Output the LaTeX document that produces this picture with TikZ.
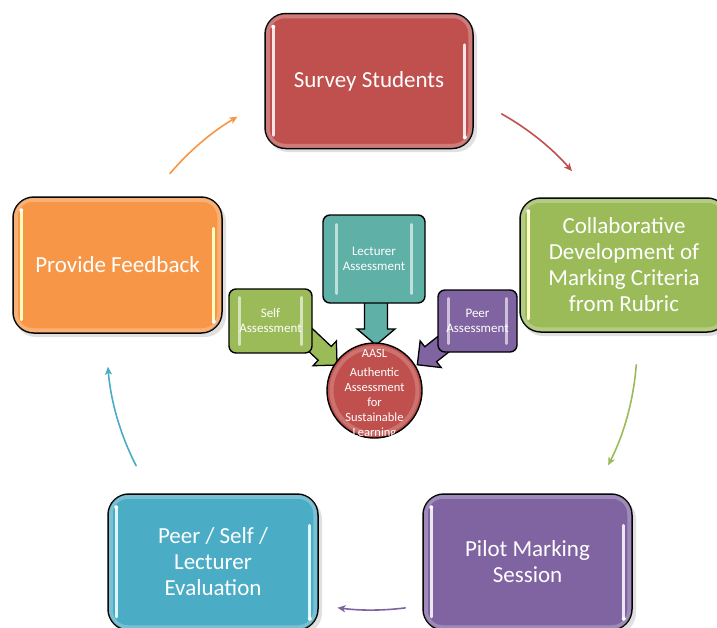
\documentclass[tikz,border=0pt]{standalone}
\usepackage{fontspec}
\setmainfont{Carlito}
\usetikzlibrary{arrows.meta,calc}
\definecolor{cred}{HTML}{C0504D}
\definecolor{corange}{HTML}{F79646}
\definecolor{cgreen}{HTML}{9BBB59}
\definecolor{cpurple}{HTML}{8064A2}
\definecolor{cblue}{HTML}{4BACC6}
\definecolor{cteal}{HTML}{5FB0A6}
\newcommand\glossy[3]{% node, highlight colour, right-top offset
  \draw[white, opacity=0.25, line width=4pt, rounded corners=17pt] ([shift={(3.5pt,-3.5pt)}]#1.north west) rectangle ([shift={(-3.5pt,3.5pt)}]#1.south east);
  \draw[line width=3pt, #2, line cap=round] ([shift={(9pt,-14pt)}]#1.north west) -- ([shift={(9pt,14pt)}]#1.south west);
  \draw[line width=3pt, #2, line cap=round] ([shift={(-9pt,-#3)}]#1.north east) -- ([shift={(-9pt,12pt)}]#1.south east);
  \fill[white] ([shift={(9pt,-14pt)}]#1.north west) circle (2pt);
  \fill[white] ([shift={(-9pt,12pt)}]#1.south east) circle (2pt);
}
\newcommand\blockarr[7]{% colour, start, angle, length, shaft half, head half, head length
  \begin{scope}[shift={#2}, rotate=#3]
    \draw[fill=#1, line width=1.3pt, line join=miter] (0,-#5) -- ({#4-#7},-#5) -- ({#4-#7},-#6) -- (#4,0)
      -- ({#4-#7},#6) -- ({#4-#7},#5) -- (0,#5) -- cycle;
  \end{scope}
}
\begin{document}
\begin{tikzpicture}[x=1pt,y=-1pt,
  bigbox/.style={draw=black, line width=1.5pt, rounded corners=21pt, minimum width=208pt,
    minimum height=135pt, text=white, align=center, inner sep=2pt,
    font=\fontsize{23}{26}\selectfont},
  smallbox/.style={draw=black, line width=1.4pt, rounded corners=7pt, text=white, align=center,
    inner sep=1pt, font=\fontsize{13}{15}\selectfont},
  shadowbox/.style={fill=black, opacity=0.12, rounded corners=21pt},
  cyc/.style={line width=1.6pt, -{Stealth[length=8pt,width=7pt,inset=2pt]}, line cap=round},
  hl/.style={line width=2.5pt, white, opacity=0.6, line cap=round}
]
\useasboundingbox (0,0) rectangle (717,627);
\clip (0,0) rectangle (717,627);

% centre of the cycle
\coordinate (C) at (372,345);

% cycle connectors (arcs)
\draw[cyc, corange] ($(C)+(-139.7:265)$) coordinate (oa) arc[start angle=-139.7, end angle=-120.5, radius=265];
\draw[cyc, cred] ($(C)+(-60.7:265)$) coordinate (ra) arc[start angle=-60.7, end angle=-41, radius=265];
\draw[cyc, cgreen] ($(C)+(4.3:265)$) coordinate (ga) arc[start angle=4.3, end angle=27, radius=265];
\draw[cyc, cpurple] ($(C)+(82.8:265)$) coordinate (pa) arc[start angle=82.8, end angle=97.5, radius=265];
\draw[cyc, cblue] ($(C)+(152.9:265)$) coordinate (ba) arc[start angle=152.9, end angle=175.3, radius=265];

% soft shadows
\fill[shadowbox] (267,18) rectangle (477,152);
\fill[shadowbox] (15,201) rectangle (226,337);
\fill[shadowbox] (522,202) rectangle (730,336);
\fill[shadowbox] (425,498) rectangle (636,634);
\fill[shadowbox] (110,498) rectangle (322,634);

% main cycle boxes
\node[bigbox, fill=cred] (survey) at (369,81) {Survey Students};
\node[bigbox, fill=corange, minimum width=209pt, minimum height=136pt] (feedback) at (117.5,265) {Provide Feedback};
\node[bigbox, fill=cgreen, minimum height=134pt] (collab) at (624,265) {Collaborative\\Development of\\Marking Criteria\\from Rubric};
\node[bigbox, fill=cpurple, minimum width=209pt, minimum height=136pt] (pilot) at (527.5,562) {Pilot Marking\\Session};
\node[bigbox, fill=cblue, minimum width=210pt, minimum height=136pt] (eval) at (213,562) {Peer / Self /\\Lecturer\\Evaluation};

\glossy{survey}{cred!15!white}{32pt}
\glossy{feedback}{yellow!25!white}{32pt}
\glossy{collab}{yellow!20!white}{32pt}
\glossy{pilot}{cpurple!15!white}{32pt}
\glossy{eval}{cyan!12!white}{32pt}

% block arrows into the centre (drawn below the small boxes)
\blockarr{cgreen}{(300,330)}{-43.4}{51}{9.5}{17}{17}
\blockarr{cpurple}{(455,335)}{-141.7}{48}{9.5}{17}{17}
\blockarr{cteal}{(376,300)}{-90}{45}{11.5}{19}{16}

% central circle
\node[circle, draw=black, line width=1.4pt, fill=cred, minimum size=95pt, inner sep=0pt] (aasl) at (374.5,390.5) {};
\draw[white, opacity=0.2, line width=4pt] (aasl.center) circle (43pt);
\node[text=white, align=center, font=\fontsize{12.5}{15}\selectfont] (aasltext) at (374.5,394) {AASL\\[4pt]Authentic\\Assessment\\for\\Sustainable\\Learning};

% small assessment boxes
\node[smallbox, fill=cteal, minimum width=102pt, minimum height=88pt] (lect) at (374,259) {Lecturer\\Assessment};
\node[smallbox, fill=cgreen, minimum width=83pt, minimum height=64pt] (self) at (270.5,321) {Self\\Assessment};
\node[smallbox, fill=cpurple, minimum width=79pt, minimum height=62pt] (peer) at (477.5,321) {Peer\\Assessment};

\draw[hl] ([shift={(14pt,-10pt)}]lect.north west) -- ([shift={(14pt,10pt)}]lect.south west);
\draw[hl] ([shift={(-14pt,-10pt)}]lect.north east) -- ([shift={(-14pt,10pt)}]lect.south east);
\draw[hl] ([shift={(11pt,-9pt)}]self.north west) -- ([shift={(11pt,9pt)}]self.south west);
\draw[hl] ([shift={(-11pt,-9pt)}]self.north east) -- ([shift={(-11pt,9pt)}]self.south east);
\draw[hl] ([shift={(11pt,-9pt)}]peer.north west) -- ([shift={(11pt,9pt)}]peer.south west);
\draw[hl] ([shift={(-11pt,-9pt)}]peer.north east) -- ([shift={(-11pt,9pt)}]peer.south east);
\end{tikzpicture}
\end{document}
